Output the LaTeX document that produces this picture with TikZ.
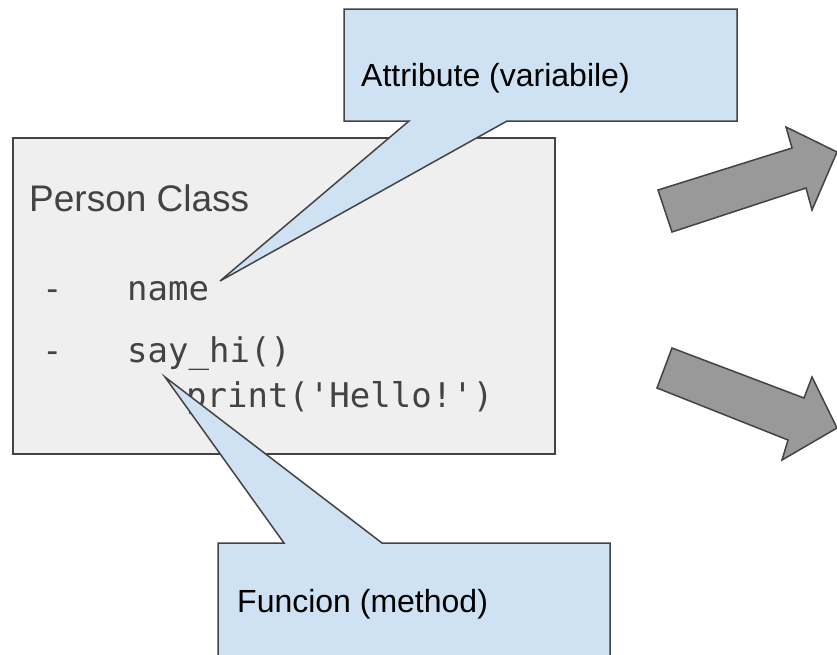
\documentclass[tikz,border=0pt]{standalone}
\usepackage{fontspec}
\setmainfont{Liberation Sans}
\newfontfamily\codefont{DejaVu Sans Mono}
\definecolor{edge}{HTML}{434343}
\definecolor{classfill}{HTML}{EFEFEF}
\definecolor{callfill}{HTML}{CFE2F3}
\definecolor{arrowfill}{HTML}{999999}
\begin{document}
\begin{tikzpicture}[x=1pt,y=-1pt,
  outline/.style={draw=edge,line width=1.5pt,line join=miter},
  classbox/.style={outline,fill=classfill},
  callout/.style={outline,fill=callfill},
  bigarrow/.style={outline,fill=arrowfill},
  titletext/.style={anchor=base west,inner sep=0pt,font=\fontsize{37}{44}\selectfont,text=edge},
  codetext/.style={anchor=base west,inner sep=0pt,font=\codefont\fontsize{34}{40}\selectfont,text=edge},
  notetext/.style={anchor=base west,inner sep=0pt,font=\fontsize{32}{38}\selectfont,text=black}]
\clip (0,0) rectangle (837,654);
\fill[white] (0,0) rectangle (837,654);
% class box
\node[classbox, minimum width=542pt, minimum height=316pt, anchor=north west, inner sep=0pt] (class) at (12,137) {};
\node[titletext] (ttl) at (29,211) {Person Class};
\node[codetext] (d1) at (42,300) {-};
\node[codetext] (n1) at (127,300) {name};
\node[codetext] (d2) at (42,362) {-};
\node[codetext] (m1) at (127,362) {say\_hi()};
\node[codetext] (m2) at (186,407) {print(\textquotesingle Hello!\textquotesingle)};
% callouts
\coordinate (tipA) at (220,281);
\coordinate (tipF) at (165,377);
\draw[callout] (344,9) -- (737,9) -- (737,121) -- (507,121) -- (tipA) -- (409,121) -- (344,121) -- cycle;
\node[notetext] (attr) at (361,86) {Attribute (variabile)};
\draw[callout] (218,543) -- (284,543) -- (tipF) -- (382,543) -- (610,543) -- (610,680) -- (218,680) -- cycle;
\node[notetext] (func) at (237,612) {Funcion (method)};
% arrows
\draw[bigarrow] (658,190) -- (792,148) -- (786,127) -- (837,152) -- (812,210) -- (806,188) -- (672,232) -- cycle;
\draw[bigarrow] (672,348) -- (804,398) -- (812,377) -- (837,428) -- (782,460) -- (788,440) -- (657,388) -- cycle;
\end{tikzpicture}
\end{document}
